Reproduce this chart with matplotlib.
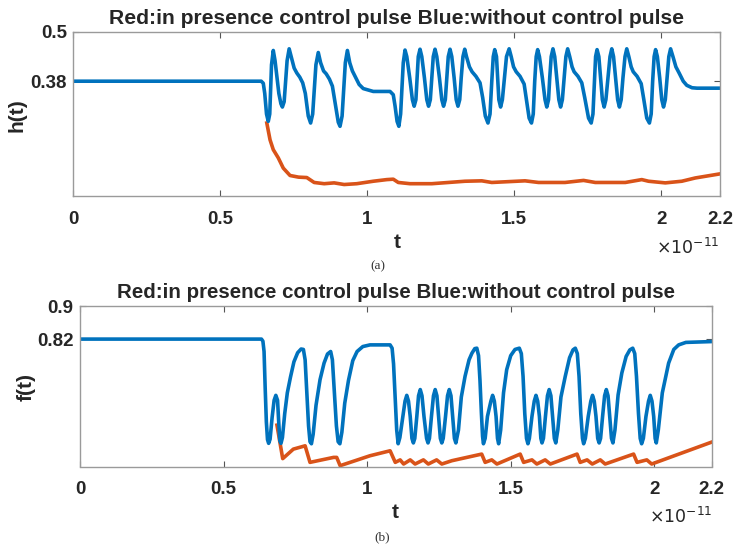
import matplotlib
matplotlib.use('Agg')
import matplotlib.pyplot as plt

# time axis in units of 1e-11 s
h_blue_t = [0, 0.640, 0.647, 0.652, 0.658, 0.664, 0.669, 0.675, 0.681, 0.687,
            0.700, 0.707, 0.712, 0.718, 0.728, 0.735, 0.742, 0.752, 0.761, 0.771,
            0.781, 0.790, 0.800, 0.808, 0.815, 0.826, 0.834, 0.842, 0.852, 0.861,
            0.872, 0.882, 0.893, 0.902, 0.908, 0.915, 0.926, 0.933, 0.941, 0.950,
            0.959, 0.973, 0.987, 1.021, 1.078, 1.089, 1.095, 1.102, 1.108, 1.114,
            1.123, 1.129, 1.135, 1.145, 1.154, 1.160, 1.166, 1.170, 1.174, 1.180,
            1.186, 1.195, 1.203, 1.209, 1.215, 1.220, 1.225, 1.231, 1.237, 1.246,
            1.254, 1.260, 1.266, 1.271, 1.276, 1.282, 1.288, 1.296, 1.303, 1.309,
            1.315, 1.320, 1.326, 1.332, 1.338, 1.348, 1.357, 1.370, 1.384, 1.393,
            1.402, 1.411, 1.418, 1.424, 1.429, 1.434, 1.440, 1.444, 1.448, 1.454,
            1.460, 1.467, 1.474, 1.483, 1.490, 1.498, 1.507, 1.520, 1.534, 1.543,
            1.551, 1.559, 1.565, 1.570, 1.575, 1.580, 1.586, 1.596, 1.605, 1.611,
            1.617, 1.621, 1.626, 1.632, 1.638, 1.645, 1.652, 1.658, 1.664, 1.670,
            1.676, 1.682, 1.689, 1.697, 1.704, 1.717, 1.730, 1.740, 1.753, 1.762,
            1.768, 1.773, 1.777, 1.782, 1.788, 1.794, 1.800, 1.806, 1.812, 1.819,
            1.826, 1.832, 1.838, 1.845, 1.852, 1.858, 1.864, 1.870, 1.877, 1.883,
            1.890, 1.898, 1.905, 1.918, 1.932, 1.941, 1.951, 1.960, 1.966, 1.971,
            1.976, 1.981, 1.987, 1.995, 2.002, 2.008, 2.014, 2.020, 2.026, 2.032,
            2.040, 2.050, 2.061, 2.075, 2.087, 2.105, 2.122, 2.2]
h_blue = [0.380, 0.380, 0.375, 0.350, 0.300, 0.282, 0.300, 0.420, 0.455, 0.430,
          0.350, 0.325, 0.317, 0.330, 0.430, 0.459, 0.440, 0.412, 0.400, 0.390,
          0.376, 0.350, 0.295, 0.278, 0.300, 0.420, 0.450, 0.425, 0.405, 0.398,
          0.385, 0.368, 0.320, 0.280, 0.270, 0.295, 0.425, 0.455, 0.425, 0.405,
          0.392, 0.372, 0.362, 0.355, 0.355, 0.347, 0.320, 0.282, 0.270, 0.300,
          0.425, 0.456, 0.440, 0.388, 0.335, 0.319, 0.335, 0.388, 0.440, 0.458,
          0.440, 0.388, 0.335, 0.319, 0.335, 0.388, 0.440, 0.458, 0.440, 0.388,
          0.335, 0.319, 0.335, 0.388, 0.440, 0.458, 0.440, 0.388, 0.335, 0.319,
          0.335, 0.388, 0.440, 0.458, 0.440, 0.415, 0.403, 0.392, 0.376, 0.340,
          0.295, 0.278, 0.300, 0.380, 0.440, 0.457, 0.440, 0.388, 0.335, 0.317,
          0.335, 0.388, 0.440, 0.459, 0.440, 0.415, 0.403, 0.392, 0.373, 0.330,
          0.290, 0.278, 0.300, 0.380, 0.440, 0.457, 0.440, 0.388, 0.335, 0.317,
          0.335, 0.388, 0.440, 0.459, 0.440, 0.388, 0.335, 0.317, 0.335, 0.388,
          0.440, 0.459, 0.440, 0.415, 0.403, 0.392, 0.376, 0.340, 0.290, 0.278,
          0.300, 0.380, 0.440, 0.457, 0.440, 0.388, 0.335, 0.317, 0.335, 0.388,
          0.440, 0.459, 0.440, 0.388, 0.335, 0.317, 0.335, 0.388, 0.440, 0.459,
          0.440, 0.415, 0.403, 0.392, 0.374, 0.335, 0.290, 0.278, 0.300, 0.380,
          0.440, 0.457, 0.440, 0.388, 0.335, 0.317, 0.335, 0.388, 0.440, 0.459,
          0.440, 0.415, 0.400, 0.380, 0.370, 0.364, 0.363, 0.363]

h_red_t = [0.659, 0.670, 0.681, 0.698, 0.715, 0.738, 0.767, 0.795, 0.820, 0.854, 0.888, 0.922, 0.965,
           1.021, 1.067, 1.089, 1.106, 1.146, 1.220, 1.333, 1.390, 1.424, 1.537, 1.583, 1.673, 1.736,
           1.776, 1.878, 1.934, 1.957, 2.014, 2.070, 2.116, 2.2]
h_red = [0.278, 0.237, 0.213, 0.193, 0.168, 0.150, 0.146, 0.145, 0.133, 0.130, 0.132, 0.128, 0.130,
         0.136, 0.140, 0.141, 0.133, 0.130, 0.130, 0.136, 0.137, 0.133, 0.137, 0.133, 0.133, 0.138,
         0.133, 0.133, 0.140, 0.136, 0.132, 0.136, 0.144, 0.154]

f_blue_t = [0, 0.632, 0.637, 0.641, 0.645, 0.649, 0.653, 0.657, 0.662, 0.669,
            0.676, 0.682, 0.688, 0.692, 0.696, 0.700, 0.705, 0.713, 0.722, 0.733,
            0.745, 0.758, 0.770, 0.778, 0.784, 0.790, 0.796, 0.801, 0.806, 0.812,
            0.822, 0.836, 0.850, 0.862, 0.873, 0.879, 0.886, 0.893, 0.899, 0.905,
            0.912, 0.922, 0.935, 0.950, 0.965, 0.985, 1.010, 1.080, 1.087, 1.092,
            1.098, 1.103, 1.108, 1.114, 1.126, 1.132, 1.138, 1.144, 1.150, 1.156,
            1.161, 1.166, 1.173, 1.179, 1.185, 1.191, 1.198, 1.207, 1.212, 1.217,
            1.224, 1.231, 1.237, 1.243, 1.249, 1.255, 1.260, 1.265, 1.273, 1.280,
            1.286, 1.292, 1.298, 1.304, 1.309, 1.318, 1.328, 1.341, 1.355, 1.365,
            1.375, 1.382, 1.388, 1.393, 1.398, 1.402, 1.405, 1.411, 1.419, 1.431,
            1.437, 1.443, 1.449, 1.454, 1.458, 1.465, 1.475, 1.486, 1.500, 1.515,
            1.530, 1.537, 1.543, 1.549, 1.555, 1.560, 1.565, 1.574, 1.582, 1.588,
            1.594, 1.600, 1.605, 1.609, 1.614, 1.621, 1.628, 1.634, 1.640, 1.646,
            1.652, 1.657, 1.664, 1.675, 1.690, 1.705, 1.717, 1.725, 1.732, 1.738,
            1.744, 1.750, 1.754, 1.760, 1.770, 1.779, 1.785, 1.791, 1.797, 1.803,
            1.808, 1.813, 1.820, 1.827, 1.833, 1.839, 1.845, 1.851, 1.856, 1.863,
            1.874, 1.887, 1.902, 1.915, 1.925, 1.932, 1.938, 1.945, 1.951, 1.956,
            1.962, 1.971, 1.980, 1.986, 1.992, 1.998, 2.003, 2.007, 2.014, 2.028,
            2.050, 2.068, 2.085, 2.110, 2.2]
f_blue = [0.820, 0.820, 0.815, 0.790, 0.700, 0.620, 0.577, 0.568, 0.578, 0.630,
          0.672, 0.684, 0.672, 0.620, 0.574, 0.568, 0.582, 0.640, 0.690, 0.728,
          0.765, 0.787, 0.796, 0.795, 0.770, 0.690, 0.610, 0.572, 0.567, 0.590,
          0.660, 0.722, 0.762, 0.784, 0.790, 0.770, 0.690, 0.610, 0.572, 0.567,
          0.595, 0.665, 0.720, 0.768, 0.790, 0.802, 0.806, 0.806, 0.798, 0.760,
          0.674, 0.600, 0.567, 0.582, 0.640, 0.670, 0.684, 0.670, 0.633, 0.580,
          0.569, 0.580, 0.633, 0.683, 0.698, 0.683, 0.633, 0.580, 0.569, 0.580,
          0.633, 0.683, 0.698, 0.683, 0.633, 0.580, 0.569, 0.580, 0.633, 0.683,
          0.698, 0.683, 0.633, 0.580, 0.569, 0.600, 0.680, 0.730, 0.770, 0.786,
          0.797, 0.798, 0.780, 0.720, 0.640, 0.585, 0.567, 0.580, 0.633, 0.670,
          0.684, 0.670, 0.633, 0.580, 0.567, 0.600, 0.690, 0.746, 0.780, 0.795,
          0.798, 0.785, 0.730, 0.640, 0.580, 0.567, 0.580, 0.633, 0.670, 0.684,
          0.670, 0.633, 0.580, 0.569, 0.580, 0.633, 0.683, 0.698, 0.683, 0.633,
          0.580, 0.569, 0.600, 0.680, 0.730, 0.775, 0.794, 0.798, 0.785, 0.730,
          0.640, 0.580, 0.567, 0.580, 0.633, 0.670, 0.684, 0.670, 0.633, 0.580,
          0.569, 0.580, 0.633, 0.683, 0.698, 0.683, 0.633, 0.580, 0.569, 0.600,
          0.685, 0.738, 0.778, 0.794, 0.798, 0.785, 0.730, 0.640, 0.580, 0.567,
          0.580, 0.633, 0.670, 0.684, 0.670, 0.633, 0.580, 0.569, 0.600, 0.690,
          0.762, 0.795, 0.806, 0.812, 0.814]

f_red_t = [0.686, 0.706, 0.743, 0.784, 0.801, 0.883, 0.894, 0.906, 1.010, 1.080, 1.098, 1.115, 1.127,
           1.150, 1.167, 1.196, 1.213, 1.242, 1.260, 1.295, 1.399, 1.411, 1.434, 1.452, 1.533, 1.545,
           1.574, 1.591, 1.620, 1.638, 1.731, 1.742, 1.766, 1.784, 1.812, 1.829, 1.928, 1.940, 1.974,
           1.991, 2.2]
f_red = [0.612, 0.531, 0.554, 0.562, 0.522, 0.534, 0.534, 0.514, 0.538, 0.550, 0.522, 0.528, 0.518,
         0.528, 0.518, 0.528, 0.518, 0.528, 0.518, 0.526, 0.542, 0.522, 0.528, 0.518, 0.542, 0.522,
         0.528, 0.518, 0.528, 0.518, 0.542, 0.522, 0.528, 0.518, 0.528, 0.518, 0.542, 0.522, 0.528,
         0.518, 0.571]

x_ticks = [0, 0.5, 1, 1.5, 2, 2.2]
x_tick_labels = ['0', '0.5', '1', '1.5', '2', '2.2']

title = 'Red:in presence control pulse Blue:without control pulse'

W, H = 735, 546
BLUE = '#0072BD'
RED = '#D95319'
TXT = '#262626'


def px(x, y):
    return x / W, 1 - y / H


def style_axes(ax, yticks):
    ax.set_xlim(0, 2.2)
    ax.set_xticks(x_ticks)
    ax.set_xticklabels(x_tick_labels)
    ax.set_yticks(yticks)
    ax.set_yticklabels([str(v) for v in yticks])
    ax.tick_params(direction='in', top=True, right=True, length=4, width=0.8,
                   color='#555555', labelcolor=TXT, labelsize=13.5)
    ax.tick_params(axis='x', pad=10.5)
    ax.tick_params(axis='y', pad=4.5)
    for lbl in ax.get_xticklabels() + ax.get_yticklabels():
        lbl.set_fontweight('bold')
    for s in ax.spines.values():
        s.set_color('#9a9a9a')
        s.set_linewidth(1.0)


def main():
    plt.rcParams['font.family'] = ['Liberation Sans', 'DejaVu Sans']
    fig = plt.figure(figsize=(W / 100, H / 100), dpi=100)

    ax1 = fig.add_axes([73 / W, 1 - 196 / H, 647 / W, 164 / H])
    ax1.plot(h_red_t, h_red, color=RED, lw=2.6, solid_joinstyle='round')
    ax1.plot(h_blue_t, h_blue, color=BLUE, lw=2.6, solid_joinstyle='round')
    ax1.set_ylim(0.1, 0.5)
    style_axes(ax1, [0.38, 0.5])
    ax1.set_title(title, fontsize=15.2, fontweight='bold', color=TXT, pad=6)

    ax2 = fig.add_axes([80 / W, 1 - 466.5 / H, 631.7 / W, 160.5 / H])
    ax2.plot(f_red_t, f_red, color=RED, lw=2.6, solid_joinstyle='round')
    ax2.plot(f_blue_t, f_blue, color=BLUE, lw=2.6, solid_joinstyle='round')
    ax2.set_ylim(0.512, 0.9)
    style_axes(ax2, [0.82, 0.9])
    ax2.set_title(title, fontsize=14.8, fontweight='bold', color=TXT, pad=6)

    # axis labels and captions
    fig.text(*px(397, 243), 't', fontsize=15, fontweight='bold', color=TXT, ha='center', va='center')
    fig.text(*px(395, 513), 't', fontsize=15, fontweight='bold', color=TXT, ha='center', va='center')
    fig.text(*px(17, 115), 'h(t)', fontsize=15, fontweight='bold', color=TXT, rotation=90,
             ha='center', va='center')
    fig.text(*px(26, 387), 'f(t)', fontsize=15, fontweight='bold', color=TXT, rotation=90,
             ha='center', va='center')
    fig.text(*px(719, 247), r'$\times10^{-11}$', fontsize=12.5, color=TXT, ha='right', va='center')
    fig.text(*px(712, 516), r'$\times10^{-11}$', fontsize=12.5, color=TXT, ha='right', va='center')
    fig.text(*px(378, 266), '(a)', fontsize=9.5, family='Liberation Serif', color='#333333',
             ha='center', va='center')
    fig.text(*px(382, 537), '(b)', fontsize=9.5, family='Liberation Serif', color='#333333',
             ha='center', va='center')

    fig.savefig('out.png', dpi=100)


if __name__ == '__main__':
    main()
